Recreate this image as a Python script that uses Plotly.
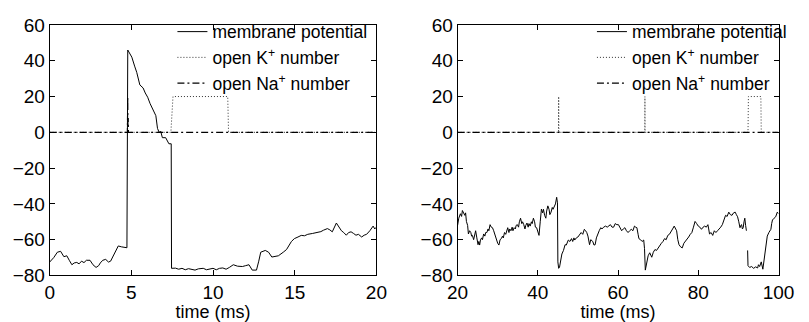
import plotly.graph_objects as go

# ---------------- data: left panel (0-20 ms) ----------------
t_left = [0, 0.25, 0.47, 0.67, 0.87, 1.05, 1.2, 1.36, 1.5, 1.66, 1.8, 1.95, 2.1, 2.25,
          2.47, 2.65, 2.84, 3.0, 3.1, 3.25, 3.43, 3.6, 3.73, 3.9, 4.02, 4.2, 4.4, 4.6,
          4.73, 4.78, 5.03, 5.2, 5.33, 5.52, 5.72, 5.85, 6.0, 6.15, 6.3, 6.5, 6.6, 6.7,
          6.8, 6.9, 7.1, 7.3, 7.44, 7.46, 7.7, 7.9, 8.1, 8.3, 8.5, 8.7, 8.9, 9.1, 9.4,
          9.6, 9.8, 10.0, 10.2, 10.4, 10.6, 10.8, 11.0, 11.24, 11.5, 11.8, 12.0, 12.2,
          12.4, 12.66, 12.8, 12.92, 13.2, 13.4, 13.6, 13.8, 14.0, 14.3, 14.5, 14.8,
          14.98, 15.2, 15.4, 15.6, 15.8, 16.1, 16.4, 16.6, 16.76, 17.0, 17.15, 17.3,
          17.55, 17.7, 17.86, 18.0, 18.16, 18.3, 18.45, 18.6, 18.75, 18.9, 19.1, 19.25,
          19.4, 19.6, 19.8, 19.9, 20.0]
v_left = [-72.5, -70, -67, -66.5, -69.5, -69, -71.5, -74, -73, -72.7, -73.5, -72, -72.8, -71.5,
          -71.5, -74, -75.5, -74.5, -73, -71.5, -71, -72.5, -72, -69, -66, -63.5, -64, -64.3,
          -64.5, 46, 42, 37, 33.5, 26.5, 24.8, 22, 19.6, 16, 12.7, 9.3, 2.2, 0,
          0.5, -3, -3, -6.4, -6.4, -76, -75.9, -76.5, -76, -76.8, -76.2, -76.5, -77, -76.3, -76,
          -76.8, -76.2, -76, -76.8, -76, -75.8, -76.5, -75.5, -74, -74.8, -75, -74.5, -74,
          -77, -77, -72, -67, -66, -67, -69.7, -69.5, -69, -67, -65.5, -61,
          -59.4, -58.5, -57.6, -57.8, -57, -56.5, -56, -55.5, -54.7, -53.8, -54.5, -55.6,
          -50.7, -53, -55, -56, -57.5, -56, -55.6, -56.5, -57.5, -57, -58.5, -57.5,
          -57, -55, -52.4, -54, -53]

tK_left = [0, 7.42, 7.55, 10.9, 10.95, 20]
vK_left = [0, 0, 20, 20, 0, 0]

tNa_left = [0, 4.76, 4.77, 4.78, 4.79, 4.80, 4.81, 4.82, 20]
vNa_left = [0, 0, 10, 20, 3, 15, 8, 0, 0]

# ---------------- data: right panel (20-100 ms) ----------------
t_right = [20, 20.3, 20.7, 21.0, 21.2, 21.5, 21.8, 22.0, 22.2, 22.5,
           22.7, 23.0, 23.3, 23.5, 23.7, 24.0, 24.2, 24.5, 24.8, 25.1,
           25.3, 25.5, 25.7, 26.0, 26.2, 26.5, 26.8, 27.0, 27.3, 27.6,
           27.8, 28.1, 28.4, 28.7, 29.0, 29.3, 29.6, 30.0, 30.3, 30.6,
           30.9, 31.2, 31.4, 31.7, 32.0, 32.2, 32.5, 32.8, 33.0, 33.3,
           33.6, 33.8, 34.1, 34.4, 34.6, 34.9, 35.2, 35.4, 35.7, 36.0,
           36.2, 36.5, 36.8, 37.0, 37.3, 37.6, 37.8, 38.1, 38.4, 38.6,
           38.9, 39.2, 39.4, 39.7, 40.0, 40.3, 40.6, 40.9, 41.2, 41.4,
           41.7, 42.0, 42.2, 42.5, 42.8, 43.0, 43.3, 43.6, 43.8, 44.1,
           44.4, 44.7, 44.9, 45.0, 45.2, 45.4, 45.7, 46.0, 46.4, 46.8,
           47.1, 47.4, 47.6, 48.0, 48.4, 48.7, 49.0, 49.2, 49.6, 50.0,
           50.4, 50.8, 51.2, 51.6, 51.9, 52.2, 52.5, 52.9, 53.2, 53.7,
           54.0, 54.3, 54.6, 54.9, 55.3, 55.7, 56.0, 56.4, 56.9, 57.3,
           57.7, 58.1, 58.5, 58.9, 59.3, 59.7, 60.1, 60.5, 60.9, 61.3,
           61.7, 62.1, 62.5, 62.9, 63.3, 63.7, 64.1, 64.4, 64.7, 65.0,
           65.2, 65.6, 66.0, 66.4, 66.6, 66.8, 67.0, 67.2, 67.5, 67.9,
           68.2, 68.4, 68.8, 69.2, 69.6, 70.0, 70.4, 70.8, 71.2, 71.6,
           72.0, 72.4, 72.8, 73.2, 73.6, 74.0, 74.3, 74.6, 74.9, 75.2,
           75.6, 76.0, 76.4, 76.8, 77.2, 77.6, 78.0, 78.4, 78.8, 79.2,
           79.6, 80.0, 80.4, 80.8, 81.2, 81.6, 82.0, 82.4, 82.6, 82.8,
           83.2, 83.6, 84.0, 84.4, 84.8, 85.2, 85.6, 86.0, 86.4, 86.8,
           87.2, 87.6, 88.0, 88.4, 88.8, 89.2, 89.5, 89.8, 90.1, 90.4,
           90.6, 90.8, 91.0, 91.2, 91.4, 91.6, 91.8, 92.0, 92.15, 92.3,
           92.4, 92.8, 93.3, 93.8, 94.3, 94.8, 95.0, 95.3, 95.7, 96.1,
           96.5, 96.9, 97.2, 97.6, 98.1, 98.3, 98.5, 98.9, 99.3, 99.7,
           100]
v_right = [-52, -48, -45.5, -47, -43.7, -45, -46.4, -45, -49.8, -52,
           -56.8, -55, -56, -58, -57.6, -60, -58, -55, -59, -62.8,
           -61, -63, -60.2, -59, -60, -56.8, -58, -56, -56, -54,
           -55, -51.6, -53, -53.3, -55, -57.6, -60, -62, -63, -60,
           -59.4, -58, -59, -56, -57, -55, -53.3, -56, -54, -55,
           -53, -55, -53.3, -54, -52, -51.6, -53, -50, -48, -51,
           -50, -51.6, -54, -52, -50.7, -53, -51, -52.4, -50, -51,
           -48, -50, -53, -53.3, -56, -57.6, -50, -42.9, -45, -43,
           -46.4, -48, -44, -41.1, -43, -46, -44.6, -42, -43, -41.1,
           -40, -36.3, -39.4, -72.4, -76, -75.5, -72, -68, -66, -62.8,
           -63, -61, -60.2, -61, -59.4, -61, -59, -60.2, -59, -58.5,
           -57, -56, -57, -54.2, -55, -56, -58, -62.8, -60, -61,
           -63, -62.8, -59, -56.8, -55, -53.3, -54, -53, -52.4, -53,
           -52, -51.6, -53, -53, -51, -51.6, -51.6, -53, -55, -54,
           -53.3, -55, -56, -55, -54.2, -55, -52.4, -53, -53.3, -57,
           -59.4, -60, -61, -60.2, -65, -77, -74, -70.7, -69, -67.3,
           -69, -69.8, -67, -65.5, -66, -64.6, -63, -62, -61, -59.4,
           -60, -57.6, -57, -55, -54, -52.4, -54, -55, -60, -62.8,
           -64, -64.6, -62, -61, -60, -58.5, -57, -56, -53, -49.8,
           -51, -52.4, -53, -54.2, -53, -52.4, -53, -51.6, -54, -56.8,
           -56, -57.6, -55, -56, -55, -54.2, -53, -51.6, -49, -46.4,
           -47, -44.6, -46, -46.4, -45, -44.6, -46, -47.2, -50, -53.3,
           -52, -51.6, -54, -53.3, -50, -48, -52, -55, None, -66,
           -74.5, -75.5, -75, -76, -75.2, -75.8, -74, -75, -72.4, -76.5,
           -68.9, -60.2, -58, -56, -54.2, -51, -49, -48, -47.2, -44.6,
           -45.5]
assert len(t_right) == len(v_right)

tK_right = [20, 45.15, 45.2, 45.25, 66.65, 66.7, 66.75, 92.4, 92.5, 95.6, 95.7, 100]
vK_right = [0, 0, 20, 0, 0, 20, 0, 0, 20, 20, 0, 0]

tNa_right = [20, 100]
vNa_right = [0, 0]

legend_names = ["membrane potential", "open K<sup>+</sup> number", "open Na<sup>+</sup> number"]
x_ticks_left = [0, 5, 10, 15, 20]
x_ticks_right = [20, 40, 60, 80, 100]
y_ticks = [-80, -60, -40, -20, 0, 20, 40, 60]

FONT = "Liberation Sans, Arial, Helvetica, sans-serif"
W, H = 809, 322

fig = go.Figure()

def add_panel(xa, ya, leg, tv, vv, tk, vk, tn, vn):
    fig.add_trace(go.Scatter(x=tv, y=vv, mode="lines", name=legend_names[0],
                             line=dict(color="black", width=1), xaxis=xa, yaxis=ya,
                             legend=leg, connectgaps=False))
    fig.add_trace(go.Scatter(x=tk, y=vk, mode="lines", name=legend_names[1],
                             line=dict(color="#333333", width=1, dash="1px,2px"), xaxis=xa, yaxis=ya,
                             legend=leg))
    fig.add_trace(go.Scatter(x=tn, y=vn, mode="lines", name=legend_names[2],
                             line=dict(color="black", width=1.2, dash="7px,3px,2px,3px"),
                             xaxis=xa, yaxis=ya, legend=leg))

add_panel("x", "y", "legend", t_left, v_left, tK_left, vK_left, tNa_left, vNa_left)
add_panel("x2", "y2", "legend2", t_right, v_right, tK_right, vK_right, tNa_right, vNa_right)

axis_common = dict(showline=True, linecolor="black", linewidth=1, mirror="ticks",
                   ticks="inside", ticklen=5, tickcolor="black", showgrid=False,
                   zeroline=False, tickfont=dict(family=FONT, size=19, color="black"))

ydom = [1 - 284 / H, 1 - 16 / H]
leg_font = dict(family=FONT, size=17.5, color="black")
fig.update_layout(
    width=W, height=H,
    margin=dict(l=0, r=0, t=0, b=0),
    paper_bgcolor="white", plot_bgcolor="white",
    font=dict(family=FONT, color="black"),
    xaxis=dict(domain=[40 / W, 378 / W], range=[0, 20], tickvals=x_ticks_left,
               anchor="y",
               title=dict(text="time (ms)", font=dict(family=FONT, size=18, color="black"), standoff=0),
               **axis_common),
    yaxis=dict(domain=ydom, range=[-80, 60], tickvals=y_ticks, anchor="x", **axis_common),
    xaxis2=dict(domain=[462 / W, 794 / W], range=[20, 100], tickvals=x_ticks_right,
                anchor="y2",
                title=dict(text="time (ms)", font=dict(family=FONT, size=18, color="black"), standoff=0),
                **axis_common),
    yaxis2=dict(domain=ydom, range=[-80, 60], tickvals=y_ticks, anchor="x2", **axis_common),
    legend=dict(x=167 / W, y=1 - 4 / H, xanchor="left", yanchor="top",
                bgcolor="rgba(0,0,0,0)", font=leg_font,
                itemwidth=30, tracegroupgap=0),
    legend2=dict(x=601 / W, y=1 - 4 / H, xanchor="left", yanchor="top",
                 bgcolor="rgba(0,0,0,0)", font=leg_font,
                 itemwidth=30, tracegroupgap=0),
    showlegend=True,
)

fig.write_html("out.html")
